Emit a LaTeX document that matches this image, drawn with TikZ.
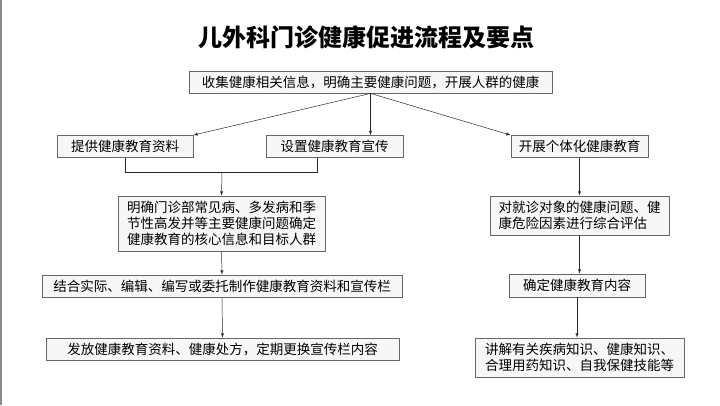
\documentclass[tikz,border=0pt]{standalone}
\usepackage{fontspec}
\setmainfont{Noto Sans CJK SC}
\usetikzlibrary{shadows}
\tikzset{
    box/.style={draw=black!60, line width=0.8pt, fill=black!3, inner sep=0pt,
        drop shadow={shadow xshift=0.9pt, shadow yshift=-0.9pt, fill=black!40, opacity=1},
        minimum height=22pt, font=\fontsize{13.5}{16}\selectfont},
    flow/.style={->, >=latex, line width=0.5pt, black!85},
}
\begin{document}
\begin{tikzpicture}[x=1pt,y=-1pt]
    \useasboundingbox (0,0) rectangle (720,405);
    \draw [black!45, line width=1.5pt] (0.75,0) -- (0.75,405);
    \node (title) at (366,37) {\fontsize{24}{28}\selectfont\bfseries 儿外科门诊健康促进流程及要点};
    % top row
    \node [box, minimum width=363pt] (top) at (370.5,82) {收集健康相关信息，明确主要健康问题，开展人群的健康};
    \node [box, minimum width=136pt] (supply) at (125,146.5) {提供健康教育资料};
    \node [box, minimum width=137pt] (setup)  at (334.5,146.5) {设置健康教育宣传};
    \node [box, minimum width=137pt] (indiv)  at (579.5,146.5) {开展个体化健康教育};
    % left column
    \node [box, minimum width=207pt, minimum height=55pt, align=left] (define) at (221.5,223.5)
        {明确门诊部常见病、多发病和季\\节性高发并等主要健康问题确定\\健康教育的核心信息和目标人群};
    \node [box, minimum width=360pt] (compile) at (222,286) {结合实际、编辑、编写或委托制作健康教育资料和宣传栏};
    \node [box, minimum width=353pt] (issue)   at (222.5,349) {发放健康教育资料、健康处方，定期更换宣传栏内容};
    % right column
    \node [box, minimum width=179pt, minimum height=39pt, align=left] (assess) at (579.5,215.5)
        {对就诊对象的健康问题、健\\康危险因素进行综合评估};
    \node [box, minimum width=136pt, minimum height=23pt] (content) at (577,285.5) {确定健康教育内容};
    \node [box, minimum width=209pt, minimum height=39pt, align=left] (explain) at (579.5,357.5)
        {讲解有关疾病知识、健康知识、\\合理用药知识、自我保健技能等};
    % connectors
    \coordinate (merge) at (222,172);
    \draw [flow] (top.south) -- (supply.north east);
    \draw [flow] (top.south) -- (top.south |- setup.north);
    \draw [flow] (top.south) -- (indiv.north west);
    \draw [line width=0.5pt, black!85] (supply.south) |- (merge);
    \draw [line width=0.5pt, black!85] ([xshift=-17pt]setup.south) |- (merge);
    \draw [flow] (merge) -- (define.north);
    \draw [flow] (define.south) -- (compile.north);
    \draw [flow] (compile.south) -- (issue.north);
    \draw [flow] (indiv.south) -- (indiv.south |- assess.north);
    \draw [flow] (assess.south) -- (assess.south |- content.north);
    \draw [flow] (content.south) -- (content.south |- explain.north);
\end{tikzpicture}
\end{document}
